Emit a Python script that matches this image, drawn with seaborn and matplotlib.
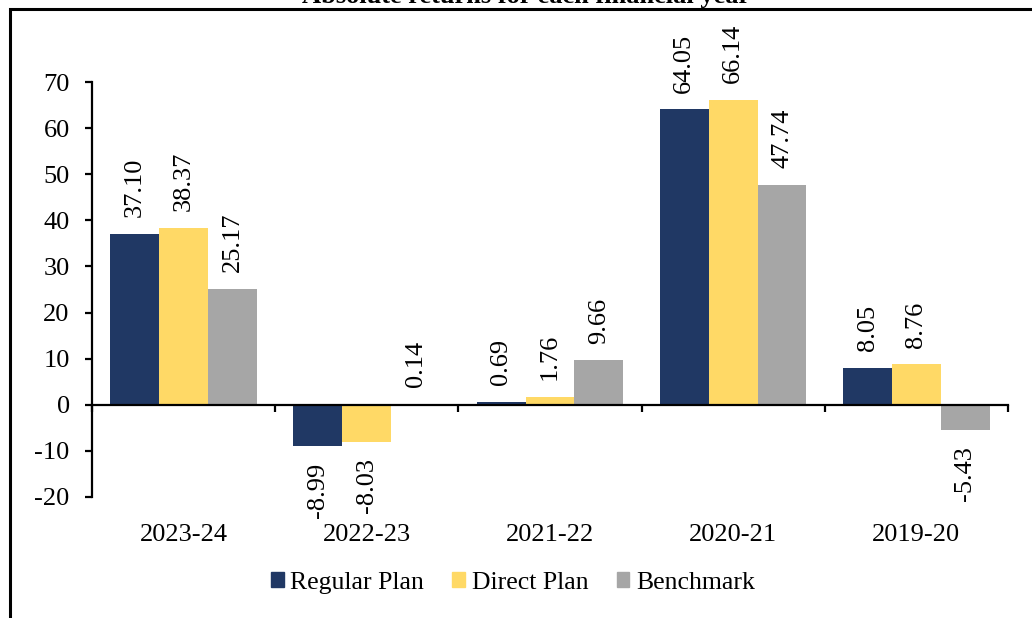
import pandas as pd
import numpy as np
import matplotlib
matplotlib.use("Agg")
import matplotlib.pyplot as plt
import seaborn as sns
from matplotlib.patches import Rectangle

# data
years = ["2023-24", "2022-23", "2021-22", "2020-21", "2019-20"]
regular_plan = [37.10, -8.99, 0.69, 64.05, 8.05]
direct_plan = [38.37, -8.03, 1.76, 66.14, 8.76]
benchmark = [25.17, 0.14, 9.66, 47.74, -5.43]
series_names = ["Regular Plan", "Direct Plan", "Benchmark"]
colors = ["#203864", "#FFD966", "#A6A6A6"]
y_ticks = list(range(-20, 80, 10))
title = "Absolute returns for each financial year"

sns.set_theme(style="white")
plt.rcParams["font.family"] = ["Liberation Serif", "DejaVu Serif"]
plt.rcParams["font.size"] = 19
plt.rcParams["axes.unicode_minus"] = False
plt.rcParams["text.color"] = "black"
plt.rcParams["axes.edgecolor"] = "black"
plt.rcParams["xtick.color"] = "black"
plt.rcParams["ytick.color"] = "black"

df = pd.DataFrame({
    "year": years * 3,
    "plan": np.repeat(series_names, len(years)),
    "value": regular_plan + direct_plan + benchmark,
})

fig = plt.figure(figsize=(10.32, 6.18), dpi=100)
ax = fig.add_axes([0.0891, 0.1958, 0.8876, 0.6715])

sns.barplot(data=df, x="year", y="value", hue="plan", order=years,
            hue_order=series_names, palette=colors, saturation=1,
            width=0.8, linewidth=0, legend=False, ax=ax)

# value labels, rotated like the original
for cont in ax.containers:
    ax.bar_label(cont, fmt="%.2f", rotation=90, padding=12, fontsize=19)

# axes
ax.set_xlim(-0.5, len(years) - 0.5)
ax.set_ylim(-20, 70)
ax.set_yticks(y_ticks)
ax.set_xlabel("")
ax.set_ylabel("")
for s in ["top", "right"]:
    ax.spines[s].set_visible(False)
ax.spines["bottom"].set_position(("data", 0))
ax.spines["bottom"].set_linewidth(1.6)
ax.spines["left"].set_linewidth(1.6)

ax.set_xticks(np.arange(len(years) + 1) - 0.5)
ax.set_xticklabels([])
ax.set_xticks(np.arange(len(years)), minor=True)
ax.set_xticklabels(years, minor=True)
ax.tick_params(axis="x", which="major", bottom=True, direction="out",
               length=5, width=1.6)
ax.tick_params(axis="x", which="minor", bottom=True, length=0, pad=86,
               labelsize=19)
ax.tick_params(axis="y", left=True, direction="out", length=5, width=1.6,
               pad=11, labelsize=19)

# legend below
handles = [Rectangle((0, 0), 1, 1, color=c) for c in colors]
fig.legend(handles, series_names, loc="center", bbox_to_anchor=(0.497, 0.057),
           ncol=3, frameon=False, fontsize=18.5, handlelength=0.5,
           handleheight=0.5, handletextpad=0.25, columnspacing=1.1)

# chart border and clipped title
fig.add_artist(Rectangle((10 / 1032, -0.1), 1.0, 0.1 + 1 - 9 / 618,
                         fill=False, lw=2.2, ec="black",
                         transform=fig.transFigure))
fig.text(0.51, 1 - 3 / 618, title, ha="center", va="baseline",
         fontweight="bold", fontsize=19)

fig.savefig("out.png", dpi=100)
